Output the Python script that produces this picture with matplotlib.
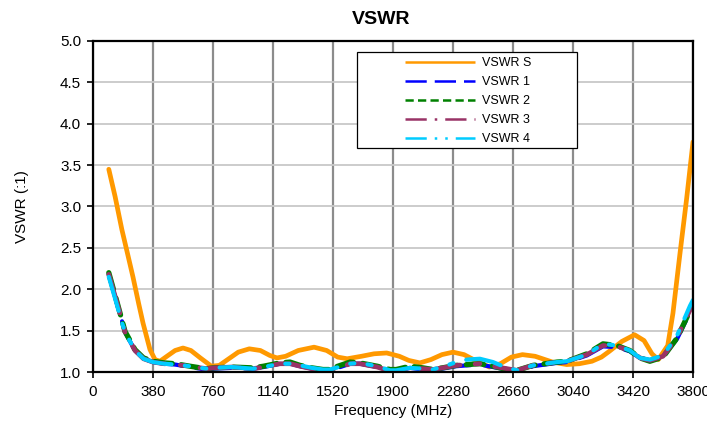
import matplotlib
matplotlib.use("Agg")
import matplotlib.pyplot as plt
from matplotlib.lines import Line2D
from matplotlib.patches import Rectangle

plt.rcParams['font.family'] = ['Liberation Sans', 'DejaVu Sans']

# ---- data ----
freq_s = [100, 140, 183, 220, 253, 290, 317, 361, 393, 424, 468, 520, 570, 620, 680, 750, 800, 860, 920, 990,
          1060, 1120, 1165, 1220, 1300, 1400, 1480, 1550, 1610, 1700, 1780, 1860, 1940, 2000, 2070,
          2140, 2210, 2280, 2350, 2430, 2510, 2580, 2650, 2720, 2800, 2910, 3000, 3080, 3160, 3220,
          3270, 3350, 3430, 3490, 3540, 3580, 3640, 3673, 3718, 3760, 3800]
vswr_s = [3.45, 3.12, 2.72, 2.42, 2.15, 1.82, 1.59, 1.27, 1.15, 1.13, 1.19, 1.26, 1.29, 1.26, 1.17, 1.07, 1.08, 1.16, 1.24, 1.28,
          1.26, 1.20, 1.17, 1.19, 1.26, 1.30, 1.26, 1.18, 1.16, 1.19, 1.22, 1.23, 1.19, 1.14, 1.11,
          1.15, 1.21, 1.24, 1.21, 1.13, 1.06, 1.10, 1.18, 1.21, 1.19, 1.12, 1.09, 1.10, 1.13, 1.18,
          1.25, 1.37, 1.45, 1.38, 1.22, 1.15, 1.32, 1.71, 2.44, 3.10, 3.78]

freq = [100, 150, 183, 203, 266, 320, 380, 450, 520, 614, 680, 722, 760, 880, 1013, 1080, 1184, 1248,
        1311, 1387, 1457, 1501, 1520, 1628, 1690, 1800, 1881, 1920, 2008, 2090, 2153, 2242, 2300, 2369,
        2450, 2533, 2622, 2685, 2787, 2939, 3002, 3128, 3230, 3318, 3400, 3464, 3527, 3610, 3699,
        3781, 3800]
vswr_1 = [2.18, 1.84, 1.62, 1.48, 1.26, 1.16, 1.12, 1.10, 1.09, 1.06, 1.04, 1.02, 1.04, 1.05, 1.04, 1.06, 1.10, 1.10,
          1.07, 1.04, 1.02, 1.02, 1.03, 1.10, 1.10, 1.06, 1.02, 1.01, 1.05, 1.03, 1.02, 1.05, 1.07, 1.08,
          1.09, 1.06, 1.03, 1.00, 1.07, 1.11, 1.12, 1.20, 1.31, 1.30, 1.25, 1.17, 1.14, 1.19, 1.40,
          1.72, 1.80]
vswr_2 = [2.20, 1.86, 1.63, 1.49, 1.27, 1.17, 1.13, 1.11, 1.10, 1.07, 1.05, 1.04, 1.05, 1.06, 1.05, 1.07, 1.11, 1.12,
          1.08, 1.05, 1.03, 1.03, 1.05, 1.12, 1.11, 1.07, 1.03, 1.03, 1.07, 1.05, 1.03, 1.06, 1.08, 1.09,
          1.10, 1.07, 1.03, 1.02, 1.08, 1.12, 1.13, 1.22, 1.34, 1.32, 1.26, 1.17, 1.13, 1.18, 1.41,
          1.74, 1.82]
vswr_3 = [2.18, 1.85, 1.62, 1.48, 1.26, 1.16, 1.12, 1.10, 1.09, 1.07, 1.05, 1.04, 1.05, 1.06, 1.04, 1.06, 1.10, 1.10,
          1.07, 1.04, 1.01, 1.00, 1.02, 1.10, 1.10, 1.06, 1.01, 1.00, 1.05, 1.04, 1.03, 1.06, 1.08, 1.09,
          1.10, 1.07, 1.04, 1.02, 1.08, 1.12, 1.13, 1.21, 1.32, 1.31, 1.26, 1.17, 1.14, 1.19, 1.42,
          1.75, 1.83]
vswr_4 = [2.15, 1.82, 1.60, 1.48, 1.26, 1.16, 1.12, 1.10, 1.09, 1.07, 1.05, 1.04, 1.05, 1.06, 1.04, 1.06, 1.10, 1.10,
          1.08, 1.05, 1.03, 1.03, 1.04, 1.10, 1.11, 1.07, 1.02, 1.02, 1.05, 1.04, 1.03, 1.08, 1.12, 1.15,
          1.16, 1.12, 1.05, 1.02, 1.08, 1.12, 1.13, 1.21, 1.34, 1.32, 1.26, 1.17, 1.15, 1.20, 1.44,
          1.80, 1.87]

labels = ["VSWR S", "VSWR 1", "VSWR 2", "VSWR 3", "VSWR 4"]
xticks = [0, 380, 760, 1140, 1520, 1900, 2280, 2660, 3040, 3420, 3800]
yticks = [1.0, 1.5, 2.0, 2.5, 3.0, 3.5, 4.0, 4.5, 5.0]

# ---- styles ----
colors = ["#FF9900", "#0000FF", "#008000", "#993366", "#00CCFF"]
dashes = [None, (8.5, 3.2), (3.3, 1.7), (8.5, 3.2, 1.0, 3.2), (8.5, 3.2, 1.0, 3.2, 1.0, 3.2)]
widths = [3.4, 3.0, 3.8, 3.4, 3.0]

W, H = 707, 423
AX_L, AX_R, AX_T, AX_B = 93, 693, 41, 372
fig = plt.figure(figsize=(W / 100, H / 100), dpi=100)
ax = fig.add_axes([AX_L / W, (H - AX_B) / H, (AX_R - AX_L) / W, (AX_B - AX_T) / H])


def ax_x(px):
    return (px - AX_L) / (AX_R - AX_L)


def ax_y(py):
    return (AX_B - py) / (AX_B - AX_T)


series = [(freq_s, vswr_s), (freq, vswr_1), (freq, vswr_2), (freq, vswr_3), (freq, vswr_4)]
for (fx, fy), c, d, w in zip(series, colors, dashes, widths):
    ln, = ax.plot(fx, fy, color=c, lw=w, solid_capstyle='round', dash_capstyle='round',
                  solid_joinstyle='round', zorder=3)
    if d is not None:
        ln.set_dashes(d)

ax.set_xlim(0, 3800)
ax.set_ylim(1.0, 5.0)
ax.set_xticks(xticks)
ax.set_xticklabels([str(v) for v in xticks])
ax.set_yticks(yticks)
ax.set_yticklabels([f"{v:.1f}" for v in yticks])

ax.xaxis.grid(True, color="#8c8c8c", lw=1.6, zorder=1)
ax.yaxis.grid(True, color="#c8c8c8", lw=1.3, zorder=1)
ax.set_axisbelow(True)
for s in ax.spines.values():
    s.set_linewidth(1.6)
    s.set_color("black")
    s.set_zorder(4)
ax.tick_params(axis='both', direction='out', length=4.5, width=1.2, labelsize=11, colors='black')
ax.tick_params(axis='y', pad=4)
ax.tick_params(axis='x', pad=4.5)

ax.set_xlabel("Frequency (MHz)", fontsize=11, labelpad=4)
ax.set_ylabel("VSWR (:1)", fontsize=11)
ax.yaxis.set_label_coords(ax_x(29), 0.5)
fig.text(381 / W, 1 - 20 / H, "VSWR", ha='center', va='center', fontsize=14, fontweight='bold')

# legend frame (Excel-style, wide box)
frame = Rectangle((ax_x(357), ax_y(148)), ax_x(577) - ax_x(357), ax_y(52) - ax_y(148),
                  transform=ax.transAxes, facecolor='white', edgecolor='black', lw=0.9, zorder=5)
ax.add_patch(frame)

handles = []
for c, d in zip(colors, dashes):
    h = Line2D([], [], color=c, lw=1.8, solid_capstyle='butt', dash_capstyle='butt')
    if d is not None:
        h.set_dashes(d)
    handles.append(h)
leg = ax.legend(handles, labels, loc='upper left', bbox_to_anchor=(ax_x(405), ax_y(57)),
                fontsize=9, frameon=False, handlelength=5.6, handletextpad=0.55,
                borderpad=0, labelspacing=0.57, borderaxespad=0)
leg.set_zorder(6)

fig.savefig("out.png", dpi=100)
